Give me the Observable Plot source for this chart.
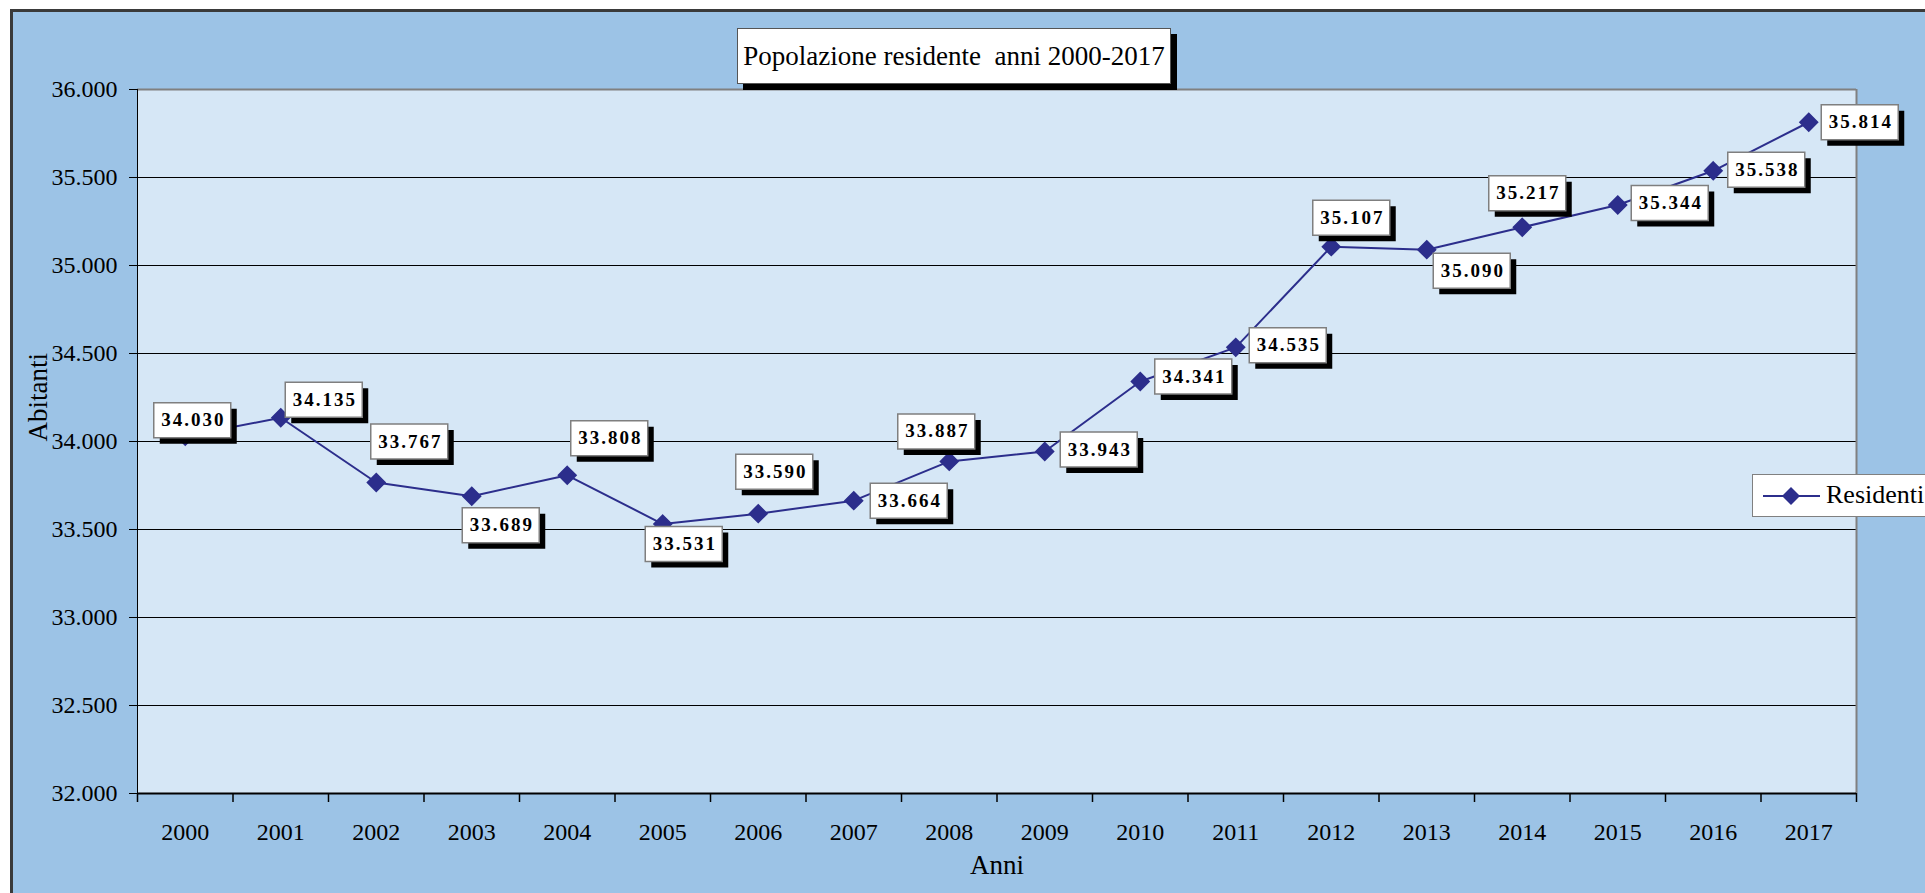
<!DOCTYPE html>
<html>
<head>
<meta charset="utf-8">
<script src="https://cdn.jsdelivr.net/npm/d3@7"></script>
<script src="https://cdn.jsdelivr.net/npm/@observablehq/plot@0.6"></script>
<style>
html,body{margin:0;padding:0;background:#fff;overflow:hidden;width:1925px;height:893px;}
#frame{position:absolute;left:10px;top:9px;width:2000px;height:1000px;background:#9cc3e6;border-left:3px solid #3a3a3a;border-top:3px solid #3a3a3a;}
#chart{position:absolute;left:0;top:0;}
#title{position:absolute;left:737px;top:28px;width:432px;height:54px;background:#fff;border:1px solid #555;box-shadow:6px 6px 0 #000;font-family:"Liberation Serif",serif;font-size:27px;color:#000;display:flex;align-items:center;justify-content:center;white-space:pre;}
#legend{position:absolute;left:1752px;top:474px;width:230px;height:41px;background:#fff;border:1px solid #808080;}
#legend svg{position:absolute;left:0;top:0;}
#legend span{position:absolute;left:73px;top:4px;font-family:"Liberation Serif",serif;font-size:26px;color:#000;line-height:32px;}
[aria-description="datalabel"]{letter-spacing:2px;}
</style>
</head>
<body>
<div id="frame"></div>
<div id="chart"></div>
<div id="title">Popolazione residente  anni 2000-2017</div>
<div id="legend"><svg width="80" height="41"><line x1="10" y1="21" x2="67" y2="21" stroke="#2c2e8c" stroke-width="2"/><path d="M38,12 L47,21 L38,30 L29,21 Z" fill="#2c2e8c"/></svg><span>Residenti</span></div>
<script>
const years = [2000, 2001, 2002, 2003, 2004, 2005, 2006, 2007, 2008, 2009, 2010, 2011, 2012, 2013, 2014, 2015, 2016, 2017];
const residenti = [34030, 34135, 33767, 33689, 33808, 33531, 33590, 33664, 33887, 33943, 34341, 34535, 35107, 35090, 35217, 35344, 35538, 35814];
const yTicks = [32000, 32500, 33000, 33500, 34000, 34500, 35000, 35500, 36000];
// pixel placement of each data label relative to its point (layout only)
const labelOffsets = [[7,-16],[43,-18],[33,-41],[29,29],[42,-37],[21,20],[16,-42],[55,0],[-13,-30],[54,-2],[53,-5],[52,-2],[20,-29],[45,21],[5,-34],[52,-2],[53,-1],[51,0]];

const navy = "#2c2e8c";
const fmt = d => d3.format(",")(d).replace(/,/g, ".");
const data = years.map((year, i) => ({year, value: residenti[i], off: labelOffsets[i]}));
const boundaries = years.map(y => y - 0.5).concat([years[years.length - 1] + 0.5]);

const boxSym = {draw(ctx) { ctx.moveTo(-38.5, -17.5); ctx.lineTo(38.5, -17.5); ctx.lineTo(38.5, 17.5); ctx.lineTo(-38.5, 17.5); ctx.closePath(); }};

const shadows = data.map(d => Plot.dot([d], {x: "year", y: "value", symbol: boxSym, r: 1, fill: "#000", stroke: null, dx: d.off[0] + 6, dy: d.off[1] + 6}));
const boxes = data.map(d => Plot.dot([d], {x: "year", y: "value", symbol: boxSym, r: 1, fill: "#fff", stroke: "#7f7f7f", strokeWidth: 1.5, dx: d.off[0], dy: d.off[1]}));
const texts = data.map(d => Plot.text([d], {x: "year", y: "value", text: v => fmt(v.value), dx: d.off[0] + 1, dy: d.off[1], fontWeight: "bold", fontSize: 19, fontFamily: "Liberation Serif", fill: "#000", ariaDescription: "datalabel"}));

const chart = Plot.plot({
  width: 1925, height: 893,
  marginLeft: 137, marginRight: 69, marginTop: 89, marginBottom: 100,
  style: {background: "transparent", fontFamily: "Liberation Serif", fontSize: "24px", color: "#000"},
  x: {type: "linear", domain: [1999.5, 2017.5], axis: null},
  y: {domain: [32000, 36000], axis: null},
  marks: [
    Plot.frame({fill: "#d6e7f6", stroke: null}),
    Plot.gridY(yTicks.slice(1, -1), {stroke: "#000", strokeOpacity: 1, strokeWidth: 1}),
    Plot.ruleY([36000], {stroke: "#808080", strokeWidth: 2}),
    Plot.ruleX([2017.5], {stroke: "#808080", strokeWidth: 2}),
    Plot.ruleX([1999.5], {stroke: "#000", strokeWidth: 1}),
    Plot.ruleY([32000], {stroke: "#000", strokeWidth: 2}),
    Plot.axisY(yTicks, {tickSize: 8, tickPadding: 12, tickFormat: fmt, fontSize: 24, label: null}),
    Plot.axisX(years, {tickSize: 0, tickPadding: 29, tickFormat: d => String(d), fontSize: 24, label: null}),
    Plot.axisX(boundaries, {tickSize: 9, tickFormat: () => "", strokeWidth: 1.5, label: null}),
    Plot.line(data, {x: "year", y: "value", stroke: navy, strokeWidth: 2}),
    Plot.dot(data, {x: "year", y: "value", symbol: "diamond2", r: 8, fill: navy, stroke: navy}),
    ...shadows, ...boxes, ...texts,
    Plot.text(["Abitanti"], {frameAnchor: "left", dx: -99, rotate: -90, fontSize: 27, fill: "#000"}),
    Plot.text(["Anni"], {frameAnchor: "bottom", dy: 80, fontSize: 27, fill: "#000"})
  ]
});
document.getElementById("chart").appendChild(chart);
</script>
</body>
</html>
